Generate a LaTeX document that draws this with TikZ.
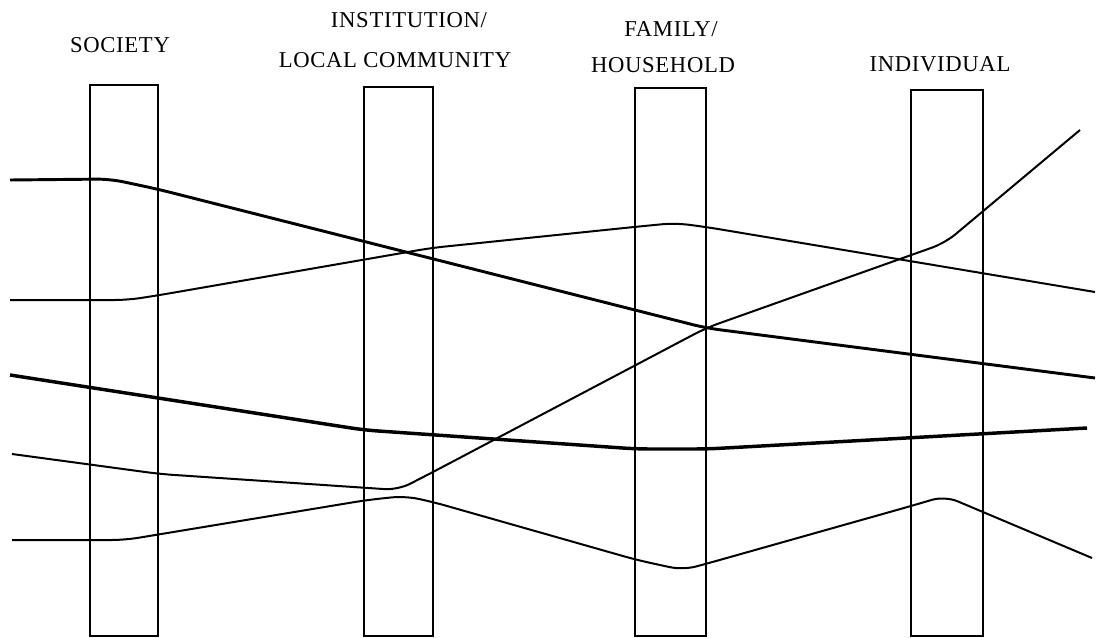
\documentclass[tikz,border=0pt]{standalone}
\usepackage{fontspec}
\setmainfont{Liberation Serif}
\newfontfamily\labelfont[LetterSpace=3]{Liberation Serif}
\begin{document}
\begin{tikzpicture}[x=0.75pt,y=-0.75pt,
  column/.style={draw=black,line width=1.1pt},
  trend/.style={draw=black,line width=1.5pt,rounded corners=10pt,line join=round},
  thicktrend/.style={trend,line width=2.2pt},
  label/.style={font=\labelfont\fontsize{17}{19}\selectfont,anchor=base,inner sep=0pt}]
\path[use as bounding box] (0,0) rectangle (1098,638);
% columns
\draw[column] (90,85) rectangle (158,636);
\draw[column] (364,87) rectangle (433,636);
\draw[column] (635,88) rectangle (706,636);
\draw[column] (911,90) rectangle (983,636);
% labels
\node[label] (soc) at (120,53) {SOCIETY};
\node[label] (inst) at (409,28) {INSTITUTION/};
\node[label] (loc) at (395,68) {LOCAL COMMUNITY};
\node[label] (fam) at (671,37) {FAMILY/};
\node[label] (hh) at (663,73) {HOUSEHOLD};
\node[label] (ind) at (940,72) {INDIVIDUAL};
% lines
\draw[thicktrend] (10,180) -- (110,179) -- (157,189) -- (706,328) -- (1095,378);
\draw[trend] (10,300) -- (128,300) -- (160,295) -- (431,248) -- (634,227) -- (675,223) -- (706,227) -- (1095,292);
\draw[thicktrend,line width=2.6pt] (10,375) -- (364,430) -- (637,449) -- (707,449) -- (1087,428);
\draw[trend] (12,454) -- (160,474) -- (398,490) -- (433,472) -- (706,328) -- (945,243) -- (1080,130);
\draw[trend] (12,540) -- (125,540) -- (367,500) -- (405,496) -- (433,502) -- (637,560) -- (683,570) -- (709,563) -- (911,506) -- (945,496) -- (1092,558);
\end{tikzpicture}
\end{document}
